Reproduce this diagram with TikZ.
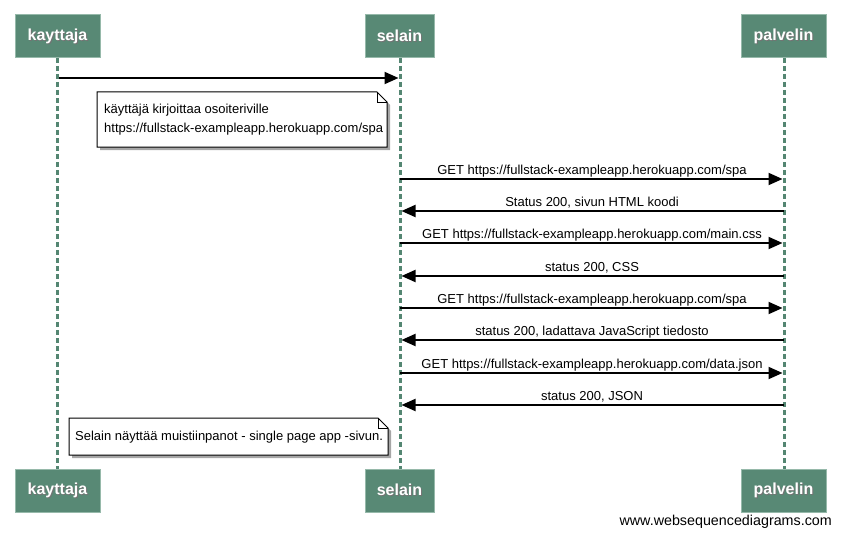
\documentclass[tikz,border=0pt]{standalone}
\usepackage{fontspec}
\setmainfont{Liberation Sans}
\usetikzlibrary{arrows.meta}
\definecolor{actorfill}{RGB}{88,137,117}
\definecolor{actorline}{RGB}{150,185,170}
\definecolor{lifeline}{RGB}{84,134,114}
\newcommand\actortxt[1]{\makebox[0pt][l]{\hspace{1pt}\raisebox{-1pt}{\color{black!55}#1}}\color{white}#1}
\tikzset{
  actorbox/.style={rectangle, fill=actorfill, draw=actorline, line width=1pt,
    minimum height=43pt, inner sep=0pt, font=\fontsize{16}{18}\selectfont\bfseries},
  lifeln/.style={draw=lifeline, line width=3pt, dash pattern=on 5pt off 3pt},
  msg/.style={draw=black, line width=2pt, shorten >=1.5pt, -{Triangle[length=14pt,width=12pt]}},
  msgtext/.style={font=\fontsize{13}{15}\selectfont, inner sep=0pt, anchor=base},
  notebox/.style={draw=black, line width=1pt, fill=white},
  noteshadow/.style={fill=black!35},
  notetext/.style={font=\fontsize{13}{19}\selectfont, inner sep=0pt, align=left, anchor=west}
}
\begin{document}
\begin{tikzpicture}[x=1pt,y=-1pt]
\useasboundingbox (0,0) rectangle (841,535);
% lifelines
\draw[lifeln] (57.5,58) -- (57.5,469);
\draw[lifeln] (400,58) -- (400,469);
\draw[lifeln] (784,58) -- (784,469);
% actor boxes
\node[actorbox, minimum width=85pt] (kt) at (57.5,36.5) {\actortxt{kayttaja}};
\node[actorbox, minimum width=69pt] (st) at (399.5,36.5) {\actortxt{selain}};
\node[actorbox, minimum width=85pt] (pt) at (783.5,36.5) {\actortxt{palvelin}};
\node[actorbox, minimum width=85pt] (kb) at (57.5,490.5) {\actortxt{kayttaja}};
\node[actorbox, minimum width=69pt] (sb) at (399.5,490.5) {\actortxt{selain}};
\node[actorbox, minimum width=85pt] (pb) at (783.5,490.5) {\actortxt{palvelin}};
% first message
\coordinate (k0) at (59,78);
\coordinate (s0) at (400,78);
\draw[msg] (k0) -- (s0);
% note 1
\fill[noteshadow] (100,95) -- (380,95) -- (390,105) -- (390,150) -- (100,150) -- cycle;
\draw[notebox] (97,92) -- (377,92) -- (387,102) -- (387,147) -- (97,147) -- cycle;
\draw[line width=0.8pt] (377,92) -- (377,102) -- (387,102);
\node[notetext] (n1) at (104,119.5) {käyttäjä kirjoittaa osoiteriville\\https://fullstack-exampleapp.herokuapp.com/spa};
% messages
\foreach \y/\dir/\txt in {
  179/r/{GET https://fullstack-exampleapp.herokuapp.com/spa},
  211/l/{Status 200, sivun HTML koodi},
  243/r/{GET https://fullstack-exampleapp.herokuapp.com/main.css},
  276/l/{status 200, CSS},
  308/r/{GET https://fullstack-exampleapp.herokuapp.com/spa},
  340/l/{status 200, ladattava JavaScript tiedosto},
  373/r/{GET https://fullstack-exampleapp.herokuapp.com/data.json},
  405/l/{status 200, JSON}} {
  \coordinate (sel) at (400,\y);
  \coordinate (pal) at (784,\y);
  \if r\dir
    \draw[msg] (sel) -- (pal);
  \else
    \draw[msg] (pal) -- (sel);
  \fi
  \node[msgtext] at (592,\y-5) {\txt};
}
% note 2
\fill[noteshadow] (72,421) -- (381,421) -- (391,431) -- (391,458) -- (72,458) -- cycle;
\draw[notebox] (69,418) -- (378,418) -- (388,428) -- (388,455) -- (69,455) -- cycle;
\draw[line width=0.8pt] (378,418) -- (378,428) -- (388,428);
\node[notetext] (n2) at (75,437) {Selain näyttää muistiinpanot - single page app -sivun.};
% footer
\node[font=\fontsize{14.3}{16}\selectfont, inner sep=0pt, anchor=base east] (wm) at (832,525) {www.websequencediagrams.com};
\end{tikzpicture}
\end{document}
